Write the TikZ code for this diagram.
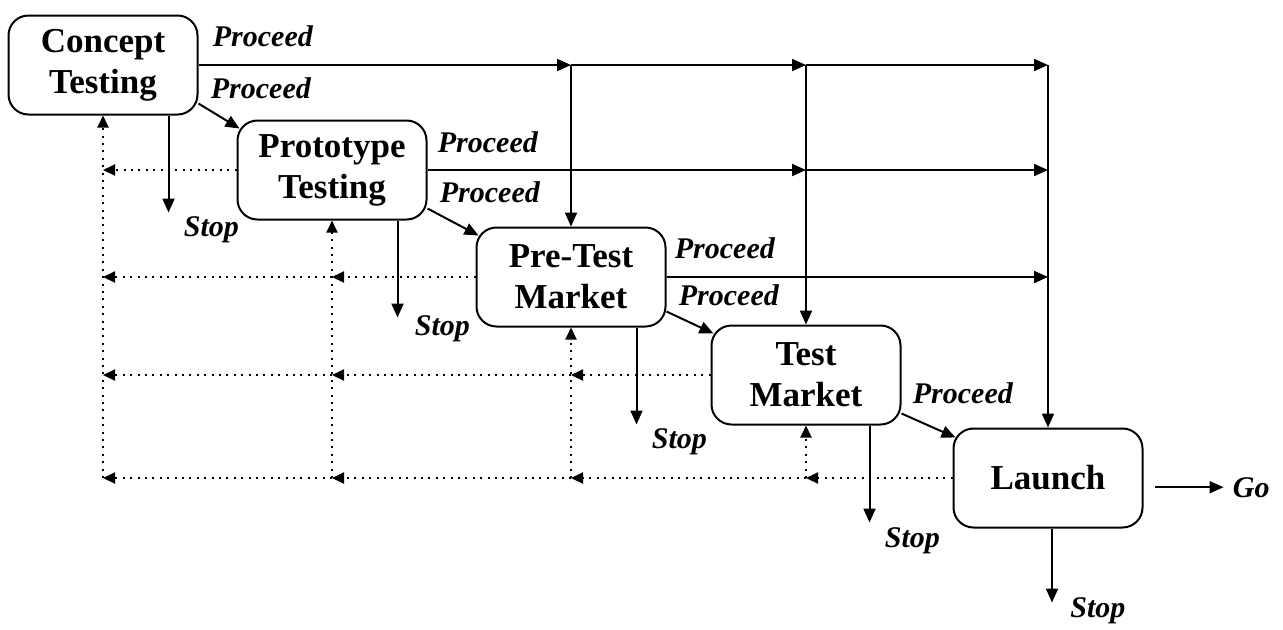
\documentclass[tikz,border=0pt]{standalone}
\usepackage{fontspec}
\setmainfont{Liberation Serif}
\usetikzlibrary{arrows.meta, positioning}

\begin{document}
\begin{tikzpicture}[
        box/.style={draw, line width=1pt, rounded corners=10pt, minimum width=94.5pt, minimum height=49.5pt, align=center, font=\fontsize{17.5}{20.5}\selectfont\bfseries},
        lbl/.style={font=\fontsize{15}{17}\selectfont\bfseries\itshape, inner sep=0pt, anchor=base west},
        flow/.style={-{Triangle[length=7pt, width=6pt]}, line width=1pt},
        back/.style={-{Triangle[length=6pt, width=5.5pt]}, line width=1pt, dash pattern=on 1pt off 2.7pt}
    ]

    \useasboundingbox (0,0) rectangle (641.5pt,-314.5pt);

    % Nodes
    \node[box] (C) at (51.5pt,-32.5pt) {Concept \\ Testing};
    \node[box, below right=2pt and 19pt of C] (P) {Prototype \\ Testing};
    \node[box, below right=3pt and 24pt of P] (R) {Pre-Test \\ Market};
    \node[box, below right=-1.5pt and 22pt of R] (T) {Test \\ Market};
    \node[box, below right=1pt and 25.5pt of T] (L) {Launch};

    % Labels
    \node[lbl] (pC1) at ([xshift=7pt, yshift=9.5pt]C.east) {Proceed};
    \node[lbl] (pC2) at ([xshift=6pt, yshift=-16.5pt]C.east) {Proceed};
    \node[lbl] (pP1) at ([xshift=5pt, yshift=9pt]P.east) {Proceed};
    \node[lbl] (pP2) at ([xshift=6pt, yshift=-16pt]P.east) {Proceed};
    \node[lbl] (pR1) at ([xshift=4pt, yshift=9.5pt]R.east) {Proceed};
    \node[lbl] (pR2) at ([xshift=6pt, yshift=-14pt]R.east) {Proceed};
    \node[lbl] (pT) at ([xshift=5.5pt, yshift=-14pt]T.east) {Proceed};
    \node[lbl] (go) at ([xshift=44.5pt, yshift=-9.5pt]L.east) {Go};

    % Stop ends
    \coordinate (sC) at ([xshift=-15pt, yshift=-48.5pt]C.south east);
    \coordinate (sP) at ([xshift=-15pt, yshift=-48.5pt]P.south east);
    \coordinate (sR) at ([xshift=-15pt, yshift=-48.5pt]R.south east);
    \coordinate (sT) at ([xshift=-16pt, yshift=-48.5pt]T.south east);
    \coordinate (sL) at ([xshift=2pt, yshift=-37pt]L.south);
    \node[lbl] (stopC) at ([xshift=7.5pt, yshift=-12pt]sC) {Stop};
    \node[lbl] (stopP) at ([xshift=8.5pt, yshift=-9pt]sP) {Stop};
    \node[lbl] (stopR) at ([xshift=7.5pt, yshift=-12pt]sR) {Stop};
    \node[lbl] (stopT) at ([xshift=7.5pt, yshift=-12.5pt]sT) {Stop};
    \node[lbl] (stopL) at ([xshift=9pt, yshift=-7.5pt]sL) {Stop};

    % Proceed arrows
    \draw[flow] (C.east) -- (C.east -| R.north);
    \draw[flow] (C.east -| R.north) -- (C.east -| T.north);
    \draw[flow] (C.east -| T.north) -- (C.east -| L.north);
    \draw[flow] (P.east) -- (P.east -| T.north);
    \draw[flow] (P.east -| T.north) -- (P.east -| L.north);
    \draw[flow] (R.east) -- (R.east -| L.north);
    \draw[flow] (C.east -| R.north) -- (R.north);
    \draw[flow] (C.east -| T.north) -- (T.north);
    \draw[flow] (C.east -| L.north) -- (L.north);
    \draw[flow] ([yshift=6pt]C.south east) -- ([xshift=1.5pt, yshift=-4.5pt]P.north west);
    \draw[flow] ([yshift=6pt]P.south east) -- ([xshift=1.5pt, yshift=-4.5pt]R.north west);
    \draw[flow] ([yshift=8pt]R.south east) -- ([xshift=1.5pt, yshift=-4.5pt]T.north west);
    \draw[flow] ([yshift=6pt]T.south east) -- ([xshift=1.5pt, yshift=-5pt]L.north west);
    \draw[flow] ([xshift=5.5pt]L.east |- go.west) -- ([xshift=-4.5pt]go.west);

    % Stop arrows
    \draw[flow] (C.south -| sC) -- (sC);
    \draw[flow] (P.south -| sP) -- (sP);
    \draw[flow] (R.south -| sR) -- (sR);
    \draw[flow] (T.south -| sT) -- (sT);
    \draw[flow] (L.south -| sL) -- (sL);

    % Feedback arrows
    \draw[back] (P.west) -- (C.south |- P.west);
    \draw[back] (R.west) -- (P.south |- R.west);
    \draw[back] (P.south |- R.west) -- (C.south |- R.west);
    \draw[back] (T.west) -- (R.south |- T.west);
    \draw[back] (R.south |- T.west) -- (P.south |- T.west);
    \draw[back] (P.south |- T.west) -- (C.south |- T.west);
    \draw[back] (L.west) -- (T.south |- L.west);
    \draw[back] (T.south |- L.west) -- (R.south |- L.west);
    \draw[back] (R.south |- L.west) -- (P.south |- L.west);
    \draw[back] (P.south |- L.west) -- (C.south |- L.west);
    \draw[back] (C.south |- L.west) -- (C.south);
    \draw[back] (P.south |- L.west) -- (P.south);
    \draw[back] (R.south |- L.west) -- (R.south);
    \draw[back] (T.south |- L.west) -- (T.south);

\end{tikzpicture}
\end{document}
